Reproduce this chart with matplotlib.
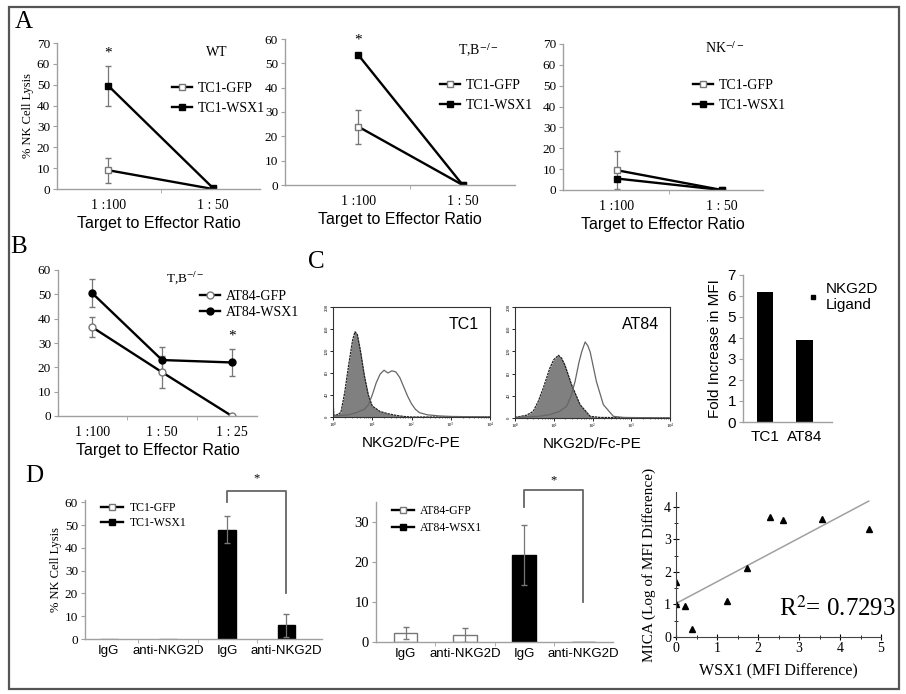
import matplotlib
matplotlib.use("Agg")
import matplotlib.pyplot as plt
from matplotlib.lines import Line2D
from matplotlib.patches import Rectangle

SERIF = ["Liberation Serif", "DejaVu Serif"]
SANS = ["Liberation Sans", "DejaVu Sans"]
plt.rcParams["font.family"] = SERIF
plt.rcParams["mathtext.fontset"] = "stix"

# ---- panel A : NK lysis, TC1 cells ----
ratios_a = ["1 :100", "1 : 50"]
wt_gfp, wt_gfp_err = [9, 0], [6, 0]
wt_wsx1, wt_wsx1_err = [49.5, 0.5], [9.6, 0]
tb_gfp, tb_gfp_err = [24, 0], [7, 0]
tb_wsx1, tb_wsx1_err = [53.5, 0], [0, 0]
nk_gfp, nk_gfp_err = [9.5, 0], [9, 0]
nk_wsx1, nk_wsx1_err = [5.5, 0], [0, 0]

# ---- panel B : NK lysis, AT84 cells ----
ratios_b = ["1 :100", "1 : 50", "1 : 25"]
b_gfp, b_gfp_err = [36.5, 18, 0], [4, 6.5, 0]
b_wsx1, b_wsx1_err = [50.5, 23, 22], [5.8, 5.5, 5.5]

# ---- panel C : histograms (log10 fluorescence, counts) ----
tc1_ctrl_x = [0.0, 0.02, 0.1, 0.2, 0.3, 0.4, 0.5, 0.56, 0.62, 0.7, 0.8, 0.9, 1.0, 1.2, 1.4, 1.6, 1.8, 2.0, 4.0]
tc1_ctrl_y = [35, 3, 4, 8, 45, 95, 140, 155, 150, 120, 75, 40, 20, 10, 6, 3, 1, 0, 0]
tc1_stain_x = [0.0, 0.4, 0.6, 0.8, 0.9, 1.0, 1.1, 1.2, 1.3, 1.4, 1.5, 1.6, 1.7, 1.8, 1.9, 2.0, 2.1, 2.2, 2.4, 2.7, 3.0, 4.0]
tc1_stain_y = [2, 4, 8, 14, 22, 40, 62, 78, 85, 80, 84, 82, 72, 55, 38, 24, 14, 8, 4, 2, 1, 0]
at84_ctrl_x = [0.0, 0.3, 0.47, 0.6, 0.73, 0.9, 1.0, 1.12, 1.2, 1.29, 1.46, 1.68, 1.94, 2.2, 4.0]
at84_ctrl_y = [1, 5, 12, 30, 54, 90, 105, 113, 108, 95, 60, 24, 3, 1, 0]
at84_stain_x = [0.0, 0.6, 0.9, 1.15, 1.33, 1.45, 1.55, 1.65, 1.72, 1.81, 1.88, 1.94, 2.1, 2.28, 2.54, 2.8, 4.0]
at84_stain_y = [1, 3, 6, 12, 21, 40, 66, 100, 119, 137, 130, 119, 66, 24, 3, 1, 0]

cells_c = ["TC1", "AT84"]
fold_mfi = [6.2, 3.9]

# ---- panel D : antibody blocking ----
block_labels = ["IgG", "anti-NKG2D", "IgG", "anti-NKG2D"]
d_tc1 = [0, 0, 48, 6]
d_tc1_err = [0, 0, 6, 5]
d_at84 = [2.3, 1.7, 21.7, 0]
d_at84_err = [1.5, 1.7, 7.5, 0]
d_white = [True, True, False, False]

# ---- panel D : correlation ----
wsx1_diff = [0, 0, 0.22, 0.4, 1.24, 1.74, 2.3, 2.62, 3.56, 4.7]
mica_log = [1.7, 1.0, 0.95, 0.26, 1.1, 2.13, 3.68, 3.6, 3.62, 3.33]
trend_x = [0, 4.7]
trend_y = [1.03, 4.18]

W, H = 906, 694
fig = plt.figure(figsize=(W / 100, H / 100), dpi=100)
fig.patches.append(Rectangle((9 / W, 1 - 689 / H), 890 / W, 682 / H, transform=fig.transFigure,
                             fill=False, edgecolor="#555555", lw=1.6))


def add_ax(l, t, r, b):
    return fig.add_axes([l / W, 1 - b / H, (r - l) / W, (b - t) / H])


def excel_axes(ax, n):
    for s in ["top", "right"]:
        ax.spines[s].set_visible(False)
    for s in ["left", "bottom"]:
        ax.spines[s].set_color("#a0a0a0")
        ax.spines[s].set_linewidth(1.0)
    ax.set_xticks(range(n))
    ax.set_xticks([i + 0.5 for i in range(n - 1)], minor=True)
    ax.tick_params(axis="x", which="major", length=0, pad=7)
    ax.tick_params(axis="x", which="minor", length=3, color="#a0a0a0")
    ax.tick_params(axis="y", length=3, color="#a0a0a0", labelsize=9.5, pad=2)
    ax.set_facecolor("none")


def line_panel(ax, labels, gfp, gfp_err, wsx, wsx_err, names, marker, ylim, xlim):
    x = range(len(labels))
    ax.errorbar(x, gfp, yerr=gfp_err, fmt="none", ecolor="#777777", elinewidth=0.9, capsize=2.5)
    ax.errorbar(x, wsx, yerr=wsx_err, fmt="none", ecolor="#777777", elinewidth=0.9, capsize=2.5)
    ax.plot(x, gfp, color="black", lw=1.7, marker=marker, ms=5, mfc="white", mec="#777777", label=names[0])
    ax.plot(x, wsx, color="black", lw=1.7, marker=marker, ms=5, mfc="black", mec="black", label=names[1])
    excel_axes(ax, len(labels))
    ax.set_xticklabels(labels, fontsize=10)
    ax.set_ylim(*ylim)
    ax.set_xlim(*xlim)
    ax.set_xlabel("Target to Effector Ratio", family=SANS, fontsize=11.5, labelpad=3)


def legend_at(ax, x, y, size, spacing=0.4):
    ax.legend(loc="upper left", bbox_to_anchor=(x / W, 1 - y / H), bbox_transform=fig.transFigure,
              frameon=False, fontsize=size, handlelength=1.45, handletextpad=0.4,
              labelspacing=spacing, borderpad=0, borderaxespad=0)


# A
ax = add_ax(57, 43, 260, 189)
line_panel(ax, ratios_a, wt_gfp, wt_gfp_err, wt_wsx1, wt_wsx1_err, ["TC1-GFP", "TC1-WSX1"], "s", (0, 70), (-0.49, 1.45))
ax.set_yticks(range(0, 71, 10))
ax.set_ylabel("% NK Cell Lysis", fontsize=9, labelpad=2)
ax.text(0, 65, "*", ha="center", va="center", fontsize=11)
fig.text(217 / W, 1 - 53 / H, "WT", ha="center", va="center", fontsize=10)
legend_at(ax, 172, 82, 10, spacing=0.5)

ax = add_ax(285, 39, 515, 185)
line_panel(ax, ratios_a, tb_gfp, tb_gfp_err, tb_wsx1, tb_wsx1_err, ["TC1-GFP", "TC1-WSX1"], "s", (0, 60), (-0.7, 1.5))
ax.set_yticks(range(0, 61, 10))
ax.text(0, 59.5, "*", ha="center", va="center", fontsize=11)
fig.text(478 / W, 1 - 50 / H, "T,B$^{-/-}$", ha="center", va="center", fontsize=10)
legend_at(ax, 440, 79, 10, spacing=0.5)

ax = add_ax(563, 44, 763, 190)
line_panel(ax, ratios_a, nk_gfp, nk_gfp_err, nk_wsx1, nk_wsx1_err, ["TC1-GFP", "TC1-WSX1"], "s", (0, 70), (-0.51, 1.39))
ax.set_yticks(range(0, 71, 10))
fig.text(725 / W, 1 - 48 / H, "NK$^{-/-}$", ha="center", va="center", fontsize=10)
legend_at(ax, 693, 79, 10, spacing=0.5)

fig.text(15 / W, 1 - 22 / H, "A", fontsize=18, va="center")

# B
ax = add_ax(58, 270, 257, 416)
line_panel(ax, ratios_b, b_gfp, b_gfp_err, b_wsx1, b_wsx1_err, ["AT84-GFP", "AT84-WSX1"], "o", (0, 60), (-0.49, 2.36))
ax.set_yticks(range(0, 61, 10))
ax.text(2, 33, "*", ha="center", va="center", fontsize=11)
fig.text(185 / W, 1 - 278 / H, "T,B$^{-/-}$", ha="center", va="center", fontsize=9.5)
legend_at(ax, 200, 290, 10, spacing=0.2)
fig.text(10 / W, 1 - 247 / H, "B", fontsize=18, va="center")

# C histograms
def histo(ax, cx, cy, sx, sy, name):
    ax.fill_between([10 ** v for v in cx], cy, color="#808080", lw=0)
    ax.plot([10 ** v for v in cx], cy, color="#222222", lw=0.9, ls=(0, (2, 0.6)))
    ax.plot([10 ** v for v in sx], sy, color="#666666", lw=0.9)
    ax.set_xscale("log")
    ax.set_xlim(1, 1e4)
    ax.set_ylim(0, 200)
    ax.set_yticks(range(0, 201, 40))
    ax.tick_params(labelsize=3.5, length=2, width=0.6, pad=1)
    ax.tick_params(which="minor", length=1, width=0.4)
    for lab in ax.get_yticklabels():
        lab.set_rotation(90)
        lab.set_va("center")
    for s in ax.spines.values():
        s.set_linewidth(0.8)
        s.set_color("#333333")
    ax.text(0.93, 0.84, name, transform=ax.transAxes, ha="right", va="center", family=SANS, fontsize=11.5)
    ax.set_xlabel("NKG2D/Fc-PE", family=SANS, fontsize=11, labelpad=4)

histo(add_ax(333, 307, 490, 417), tc1_ctrl_x, tc1_ctrl_y, tc1_stain_x, tc1_stain_y, "TC1")
histo(add_ax(515, 307, 670, 418), at84_ctrl_x, at84_ctrl_y, at84_stain_x, at84_stain_y, "AT84")
fig.text(308 / W, 1 - 262 / H, "C", fontsize=18, va="center")

# C bar
ax = add_ax(743, 275, 832, 422)
ax.bar(range(2), fold_mfi, width=0.42, color="black")
excel_axes(ax, 2)
ax.tick_params(axis="x", which="minor", length=0)
ax.set_xticklabels(cells_c, family=SANS, fontsize=11)
ax.tick_params(axis="x", pad=6)
ax.tick_params(axis="y", labelsize=11)
ax.set_xlim(-0.55, 1.68)
ax.set_ylim(0, 7)
ax.set_yticks(range(0, 8))
for lab in ax.get_yticklabels():
    lab.set_family(SANS)
ax.set_ylabel("Fold Increase in MFI", family=SANS, fontsize=11, labelpad=4)
ax.legend(handles=[Line2D([], [], ls="none", marker="s", ms=3.5, color="black", label="NKG2D\nLigand")],
          loc="upper left", bbox_to_anchor=(807 / W, 1 - 282 / H), bbox_transform=fig.transFigure,
          frameon=False, prop={"family": SANS, "size": 11}, handlelength=0.8, handletextpad=0.4,
          borderpad=0, borderaxespad=0)

# D bars
def block_panel(ax, vals, errs, width, ylim, names):
    x = range(len(block_labels))
    faces = ["white" if w else "black" for w in d_white]
    edges = ["#777777" if w else "black" for w in d_white]
    ax.bar(x, vals, width=width, color=faces, edgecolor=edges, lw=1.0)
    for xi, v, e in zip(x, vals, errs):
        if e > 0:
            ax.errorbar([xi], [v], yerr=[e], fmt="none", ecolor="#777777", elinewidth=0.9, capsize=2.5)
    excel_axes(ax, len(block_labels))
    ax.set_xticklabels(block_labels, family=SANS, fontsize=9.5)
    ax.tick_params(axis="x", pad=4)
    ax.set_ylim(*ylim)
    ax.set_xlim(-0.4, 3.6)
    handles = [Line2D([], [], color="black", lw=1.7, marker="s", ms=5, mfc="white", mec="#777777", label=names[0]),
               Line2D([], [], color="black", lw=1.7, marker="s", ms=5, mfc="black", mec="black", label=names[1])]
    return handles

ax = add_ax(85, 500, 322, 639)
hd = block_panel(ax, d_tc1, d_tc1_err, 0.3, (0, 61), ["TC1-GFP", "TC1-WSX1"])
ax.set_yticks(range(0, 61, 10))
ax.set_ylabel("% NK Cell Lysis", fontsize=9, labelpad=2)
ax.plot([2, 2, 3, 3], [60, 65, 65, 20], color="#666666", lw=1.3, clip_on=False)
ax.text(2.5, 70.5, "*", ha="center", va="center", fontsize=9)
ax.legend(handles=hd, loc="upper left", bbox_to_anchor=(101 / W, 1 - 502 / H), bbox_transform=fig.transFigure,
          frameon=False, fontsize=8.5, handlelength=1.9, handletextpad=0.5, labelspacing=0.25,
          borderpad=0, borderaxespad=0)
fig.text(25 / W, 1 - 476 / H, "D", fontsize=18, va="center")

ax = add_ax(376, 502, 613, 642)
hd = block_panel(ax, d_at84, d_at84_err, 0.4, (0, 35), ["AT84-GFP", "AT84-WSX1"])
ax.set_xlim(-0.5, 3.5)
ax.set_yticks(range(0, 31, 10))
ax.tick_params(axis="y", labelsize=10.5)
ax.plot([2, 2, 3, 3], [33.8, 38, 38, 10], color="#666666", lw=1.3, clip_on=False)
ax.text(2.5, 40.5, "*", ha="center", va="center", fontsize=9)
ax.legend(handles=hd, loc="upper left", bbox_to_anchor=(392 / W, 1 - 505 / H), bbox_transform=fig.transFigure,
          frameon=False, fontsize=8.5, handlelength=1.9, handletextpad=0.5, labelspacing=0.4,
          borderpad=0, borderaxespad=0)

# D scatter
ax = add_ax(676, 492, 881, 637)
ax.plot(trend_x, trend_y, color="#a0a0a0", lw=1.1)
ax.plot(wsx1_diff, mica_log, ls="none", marker="^", ms=4, color="black")
for s in ["top", "right"]:
    ax.spines[s].set_visible(False)
for s in ["left", "bottom"]:
    ax.spines[s].set_color("#444444")
ax.set_xlim(0, 5)
ax.set_ylim(0, 4.46)
ax.set_xticks(range(0, 6))
ax.set_yticks(range(0, 5))
ax.set_xticks([i + 0.5 for i in range(5)], minor=True)
ax.set_yticks([i + 0.5 for i in range(4)], minor=True)
ax.tick_params(direction="inout", length=5, labelsize=10, pad=1)
ax.tick_params(which="minor", direction="inout", length=3)
ax.set_xlabel("WSX1 (MFI Difference)", fontsize=11.5, labelpad=6)
ax.set_ylabel("MICA (Log of MFI Difference)", fontsize=11, labelpad=6)
ax.text(1.07, 0.2, "R$^2$= 0.7293", transform=ax.transAxes, ha="right", va="center", fontsize=18)

fig.savefig("out.png", dpi=100)
